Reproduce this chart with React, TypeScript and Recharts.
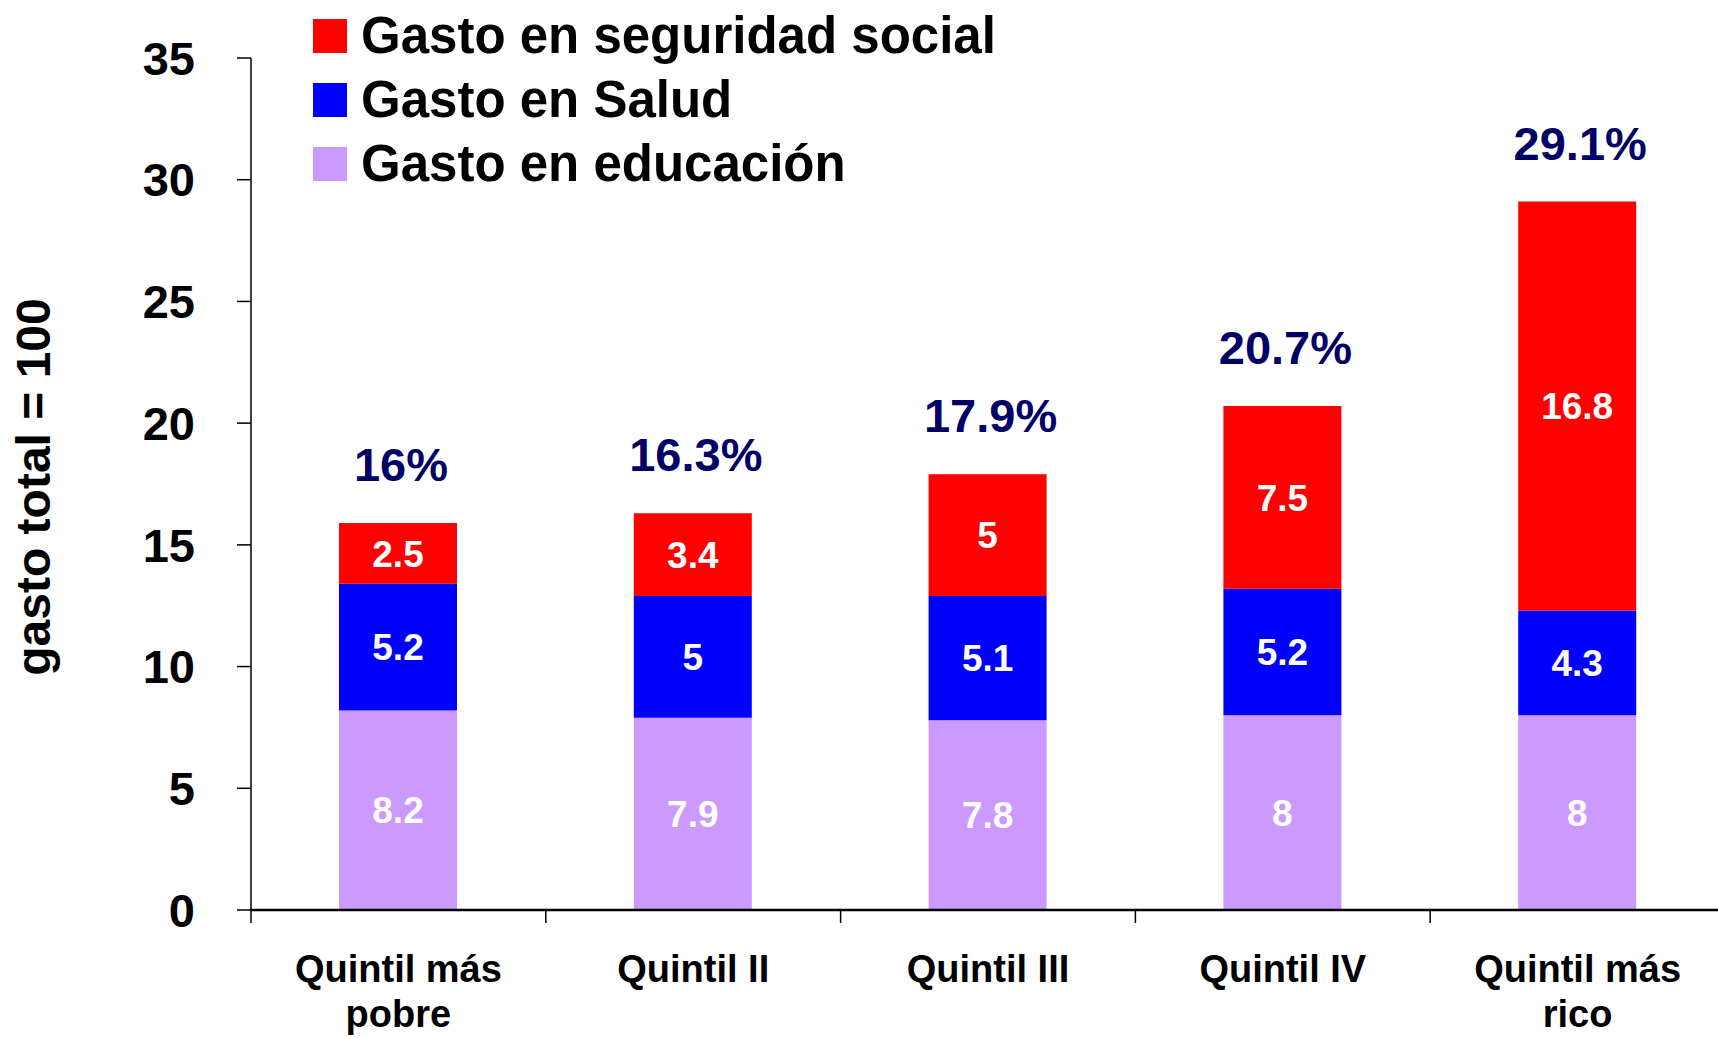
import { BarChart, Bar, XAxis, YAxis, Legend, LabelList } from "recharts";

const FONT = "'Liberation Sans', Arial, sans-serif";

// Values (gasto total = 100)
const quintiles = ["Quintil más\npobre", "Quintil II", "Quintil III", "Quintil IV", "Quintil más\nrico"];
const educacion = [8.2, 7.9, 7.8, 8, 8];
const salud = [5.2, 5, 5.1, 5.2, 4.3];
const seguridad = [2.5, 3.4, 5, 7.5, 16.8];
const totales = [16, 16.3, 17.9, 20.7, 29.1];
const yTicks = [0, 5, 10, 15, 20, 25, 30, 35];
// legend reads top-down, opposite to the stacking order
const legendOrder = ["seguridad", "salud", "educacion"];

const COLORS = {
  educacion: "#CC99FF",
  salud: "#0000FF",
  seguridad: "#FF0000",
  total: "#000066",
};

const data = quintiles.map((q, i) => ({
  quintil: q,
  educacion: educacion[i],
  salud: salud[i],
  seguridad: seguridad[i],
  total: totales[i],
}));

/**
 * Two-line category label; the tick mark sits on the left edge of each category
 */
function QuintilTick(props: any) {
  const { x, y, payload, width, visibleTicksCount } = props;
  const lines = String(payload.value).split("\n");
  const band = width && visibleTicksCount ? width / visibleTicksCount : 294.8;
  const edge = x - band / 2;
  return (
    <g>
      <line x1={edge} x2={edge} y1={y - 15} y2={y - 2} stroke="#000" strokeWidth={1.5} />
      <text x={x} y={y} textAnchor="middle" fill="#000" fontSize={38} fontWeight={700} fontFamily={FONT}>
        {lines.map((line, i) => (
          <tspan key={line} x={x} dy={i === 0 ? 57 : 45}>
            {line}
          </tspan>
        ))}
      </text>
    </g>
  );
}

/**
 * Total share printed above each stack
 */
function TotalLabel({ x, y, width, value }: any) {
  return (
    <text
      x={x + width / 2 + 3}
      y={y - 42}
      textAnchor="middle"
      fill={COLORS.total}
      fontSize={47}
      fontWeight={700}
      fontFamily={FONT}
    >
      {`${value}%`}
    </text>
  );
}

function StackLegend({ payload }: any) {
  const items = legendOrder
    .map((key) => (payload || []).find((p: any) => p.dataKey === key))
    .filter(Boolean);
  return (
    <svg width={1100} height={200} style={{ display: "block" }}>
      {items.map((item: any, i: number) => (
        <g key={item.value}>
          <rect x={313} y={19 + i * 64} width={34} height={34} fill={item.color} />
          <text x={361} y={53 + i * 64} fontSize={51} fontWeight={700} fontFamily={FONT} fill="#000">
            {item.value}
          </text>
        </g>
      ))}
    </svg>
  );
}

function YLabel({ viewBox }: any) {
  const cy = viewBox.y + viewBox.height / 2 + 3;
  return (
    <text
      x={50}
      y={cy}
      transform={`rotate(-90, 50, ${cy})`}
      textAnchor="middle"
      fill="#000"
      fontSize={48}
      fontWeight={700}
      fontFamily={FONT}
    >
      gasto total = 100
    </text>
  );
}

const innerLabel = { fill: "#fff", fontSize: 37, fontWeight: 700, fontFamily: FONT };

export default function App() {
  return (
    <div
      style={{
        position: "absolute",
        left: 0,
        top: 0,
        width: 1718,
        height: 1039,
        overflow: "hidden",
        background: "#fff",
        fontFamily: FONT,
      }}
    >
      <BarChart width={1726} height={1039} data={data} margin={{ top: 58, right: 1, left: 0, bottom: 0 }}>
        <XAxis
          dataKey="quintil"
          tick={<QuintilTick />}
          tickLine={false}
          tickSize={13}
          tickMargin={2}
          interval={0}
          axisLine={{ stroke: "#000", strokeWidth: 2.5 }}
          height={129}
        />
        <YAxis
          domain={[0, 35]}
          ticks={yTicks}
          interval={0}
          width={251}
          tickSize={14}
          tickMargin={42}
          tick={{ fill: "#000", fontSize: 47, fontWeight: 700, fontFamily: FONT }}
          tickLine={{ stroke: "#000", strokeWidth: 1.5 }}
          axisLine={{ stroke: "#000", strokeWidth: 1.5 }}
          label={<YLabel />}
        />
        <Legend
          layout="vertical"
          align="center"
          verticalAlign="middle"
          wrapperStyle={{ top: 0, left: 0, width: 1100, height: 200 }}
          content={<StackLegend />}
        />
        <Bar dataKey="educacion" name="Gasto en educación" stackId="g" fill={COLORS.educacion} barSize={118} isAnimationActive={false}>
          <LabelList dataKey="educacion" position="center" {...innerLabel} />
        </Bar>
        <Bar dataKey="salud" name="Gasto en Salud" stackId="g" fill={COLORS.salud} barSize={118} isAnimationActive={false}>
          <LabelList dataKey="salud" position="center" {...innerLabel} />
        </Bar>
        <Bar dataKey="seguridad" name="Gasto en seguridad social" stackId="g" fill={COLORS.seguridad} barSize={118} isAnimationActive={false}>
          <LabelList dataKey="seguridad" position="center" {...innerLabel} />
          <LabelList dataKey="total" content={<TotalLabel />} />
        </Bar>
      </BarChart>
    </div>
  );
}
